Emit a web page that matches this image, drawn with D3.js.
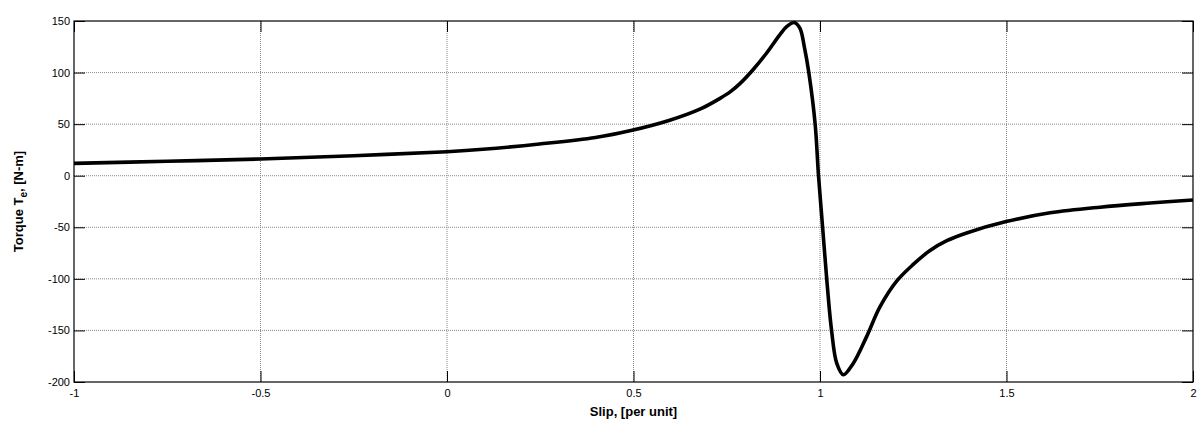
<!DOCTYPE html>
<html>
<head>
<meta charset="utf-8">
<script src="https://cdn.jsdelivr.net/npm/d3@7"></script>
<style>
    body { margin: 0; background: #fff; }
    text { font-family: "Liberation Sans", Arial, sans-serif; }
    .tick text { font-size: 11px; fill: #000; }
    .label { font-size: 13px; font-weight: bold; }
</style>
</head>
<body>
<svg id="chart" width="1200" height="426"></svg>
<script>
// ------------------------------
// TORQUE - SLIP characteristic
// ------------------------------
var slip   = [-1, -0.75, -0.5, -0.25, 0, 0.0965, 0.248, 0.398, 0.496, 0.595, 0.678, 0.732, 0.76, 0.786, 0.821, 0.857,
              0.893, 0.912, 0.931, 0.946, 0.958, 0.970, 0.987, 0.996, 1.007, 1.018, 1.031, 1.045, 1.0625, 1.089,
              1.125, 1.161, 1.206, 1.25, 1.295, 1.34, 1.393, 1.499, 1.617, 1.751, 1.885, 2];
var torque = [12, 14, 16.2, 19.4, 23.3, 25.6, 30.7, 37, 44, 53.5, 64.5, 75, 81.5, 89.5, 103, 119,
              137, 145, 148.5, 143, 125, 100, 50, 0, -50, -100, -150, -182, -193, -182,
              -156, -127, -102, -86, -72.5, -63, -55.5, -44.5, -36, -30.5, -26.5, -23.5];

var xTicks = [-1, -0.5, 0, 0.5, 1, 1.5, 2];
var yTicks = [-200, -150, -100, -50, 0, 50, 100, 150];

var svg = d3.select("#chart");
// plot box (note: "top" is taken by window.top, so use pTop etc.)
var pLeft = 74, pRight = 1193, pTop = 21, pBottom = 382;
var tickLen = 11;

var x = d3.scaleLinear().domain([-1, 2]).range([pLeft, pRight]);
var y = d3.scaleLinear().domain([-200, 150]).range([pBottom, pTop]);

// plain hyphen minus like the original
var fmt = function(d){ return String(d); };

// dotted grid
svg.append("g").selectAll("line").data(xTicks.slice(1, -1)).enter().append("line")
    .attr("x1", function(d){ return x(d); }).attr("x2", function(d){ return x(d); })
    .attr("y1", pTop).attr("y2", pBottom)
    .attr("stroke", "#8a8a8a").attr("stroke-dasharray", "1,1");
svg.append("g").selectAll("line").data(yTicks.slice(1, -1)).enter().append("line")
    .attr("y1", function(d){ return y(d); }).attr("y2", function(d){ return y(d); })
    .attr("x1", pLeft).attr("x2", pRight)
    .attr("stroke", "#8a8a8a").attr("stroke-dasharray", "1,1");

// axes, ticks pointing inside on all four sides (matlab style)
svg.append("g").attr("transform", "translate(0," + pBottom + ")")
    .call(d3.axisBottom(x).tickValues(xTicks).tickFormat(fmt).tickSizeInner(-tickLen).tickSizeOuter(0).tickPadding(7));
svg.append("g").attr("transform", "translate(" + pLeft + ",0)")
    .call(d3.axisLeft(y).tickValues(yTicks).tickFormat(fmt).tickSizeInner(-tickLen).tickSizeOuter(0).tickPadding(4));
svg.append("g").attr("transform", "translate(0," + pTop + ")")
    .call(d3.axisTop(x).tickValues(xTicks).tickFormat("").tickSizeInner(-tickLen).tickSizeOuter(0));
svg.append("g").attr("transform", "translate(" + pRight + ",0)")
    .call(d3.axisRight(y).tickValues(yTicks).tickFormat("").tickSizeInner(-tickLen).tickSizeOuter(0));

svg.selectAll(".domain").remove();
svg.selectAll(".tick line").attr("stroke", "#000");
svg.selectAll(".tick text").attr("fill", "#000");

// box around the plot
svg.append("rect")
    .attr("x", pLeft).attr("y", pTop)
    .attr("width", pRight - pLeft).attr("height", pBottom - pTop)
    .attr("fill", "none").attr("stroke", "#000").attr("stroke-width", 1.2);

// the curve
var line = d3.line()
    .x(function(d, i){ return x(slip[i]); })
    .y(function(d){ return y(d); })
    .curve(d3.curveCatmullRom.alpha(0.5));

svg.append("path")
    .datum(torque)
    .attr("d", line)
    .attr("fill", "none")
    .attr("stroke", "#000")
    .attr("stroke-width", 3.6)
    .attr("stroke-linejoin", "round");

// axis labels
svg.append("text").attr("class", "label")
    .attr("x", (pLeft + pRight) / 2).attr("y", 416)
    .attr("text-anchor", "middle")
    .text("Slip, [per unit]");

var yl = svg.append("text").attr("class", "label")
    .attr("transform", "translate(23," + ((pTop + pBottom) / 2) + ") rotate(-90)")
    .attr("text-anchor", "middle");
yl.append("tspan").text("Torque T");
yl.append("tspan").attr("font-size", "10px").attr("dy", 4).text("e");
yl.append("tspan").attr("dy", -4).text(", [N-m]");
</script>
</body>
</html>
